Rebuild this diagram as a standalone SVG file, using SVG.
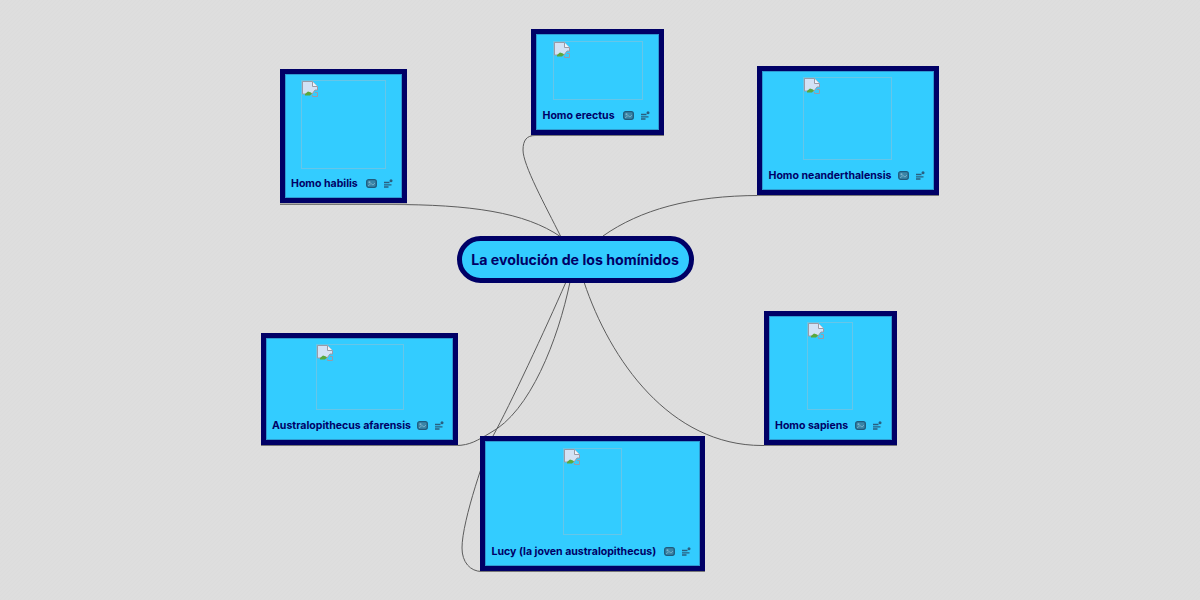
<svg xmlns="http://www.w3.org/2000/svg" width="1200" height="600" viewBox="0 0 1200 600">
<defs>
<pattern id="bg" width="4" height="4" patternUnits="userSpaceOnUse"><rect width="4" height="4" fill="#dedede"/><path d="M0 4L4 0" stroke="#dcdcdc" stroke-width="1"/></pattern>
<g id="broken"><path d="M0.500 0.500H10.500L15.500 5.500V9H13L10 13H0.500Z" fill="#d3e2f5" stroke="#9a9aa6"/><path d="M3 13L6 10.500L9 11.500L10 12.500L8 14.500H3Z" fill="#5aa83c"/><path d="M10.500 0.500V5.500H15.500" fill="#eef4fb" stroke="#9a9aa6"/><path d="M13 11.500H15.500V15.500H10.500V14" fill="none" stroke="#9a9aa6"/></g>
<g id="pic"><rect x="0.700" y="0.700" width="9.600" height="7.600" rx="2" fill="#3a86a8" stroke="#205a7c" stroke-width="1.300"/><circle cx="3.500" cy="3.300" r="1" fill="#7fb4cc"/><path d="M2 7L5 4.500L7 6L9 4" fill="none" stroke="#7fb4cc" stroke-width="0.800"/></g>
<g id="note"><path d="M0 3.500H5.500M0 5.800H7.500M0 8H4.500" stroke="#2a5f80" stroke-width="1.300" fill="none"/><circle cx="7" cy="1.800" r="1.500" fill="#2a5f80"/></g>
</defs>
<style>
.n{fill:#33ccff;stroke:#000066;stroke-width:5}
.i{fill:none;stroke:#2f9ad0;stroke-width:1}
.s{stroke:#777777;stroke-width:1.500;fill:none}
.p{fill:none;stroke:#66c6e8;stroke-width:1}
.t{font-family:"Inter","Liberation Sans",sans-serif;font-weight:700;font-size:10.550px;fill:#000066}
.c{fill:none;stroke:#5c5c5c;stroke-width:1}
</style>
<rect width="1200" height="600" fill="url(#bg)"/>
<g id="connectors">
<path class="c" d="M280 204.500H390C470 204.500 525 212 561 237"/>
<path class="c" d="M561 237C545 205 523 165 523 150C523 140 527 135.500 535 135.500"/>
<path class="c" d="M603 236C640 210 690 195.500 760 195.500H938"/>
<path class="c" d="M566 282C545 330 510 405 493 436C487 450 462 520 462 548C462 562 470 571.500 482 571.500"/>
<path class="c" d="M570 282C558 340 530 412 490 433C478 440 470 445.500 456 445.500H261"/>
<path class="c" d="M584 282C610 360 670 445.500 762 445.500H896"/>
</g>
<g id="node-habilis">
<path class="s" d="M280 204.200H407"/><rect class="n" x="282.500" y="71.500" width="122" height="129"/><rect class="i" x="285.500" y="74.500" width="116" height="123"/>
<rect class="p" x="301.500" y="80.500" width="84" height="88"/><use href="#broken" x="302" y="81"/>
<text class="t" x="291" y="187">Homo habilis</text><use href="#pic" x="366" y="179"/><use href="#note" x="384" y="179"/></g>
<g id="node-erectus">
<path class="s" d="M531 135.200H664"/><rect class="n" x="533.500" y="31.500" width="128" height="101"/><rect class="i" x="536.500" y="34.500" width="122" height="95"/>
<rect class="p" x="553.500" y="41.500" width="89" height="58"/><use href="#broken" x="554" y="42"/>
<text class="t" x="542.500" y="119">Homo erectus</text><use href="#pic" x="623" y="111"/><use href="#note" x="641" y="111"/></g>
<g id="node-neanderthalensis">
<path class="s" d="M757 195.200H939"/><rect class="n" x="759.500" y="68.500" width="177" height="124"/><rect class="i" x="762.500" y="71.500" width="171" height="118"/>
<rect class="p" x="803.500" y="77.500" width="88" height="82"/><use href="#broken" x="804" y="78"/>
<text class="t" x="768.500" y="179">Homo neanderthalensis</text><use href="#pic" x="898" y="171"/><use href="#note" x="916" y="171"/></g>
<g id="node-afarensis">
<path class="s" d="M261 445.200H458"/><rect class="n" x="263.500" y="335.500" width="192" height="107"/><rect class="i" x="266.500" y="338.500" width="186" height="101"/>
<rect class="p" x="316.500" y="344.500" width="87" height="65"/><use href="#broken" x="317" y="345"/>
<text class="t" x="272" y="429">Australopithecus afarensis</text><use href="#pic" x="417" y="421"/><use href="#note" x="435" y="421"/></g>
<g id="node-sapiens">
<path class="s" d="M764 445.200H897"/><rect class="n" x="766.500" y="313.500" width="128" height="129"/><rect class="i" x="769.500" y="316.500" width="122" height="123"/>
<rect class="p" x="807.500" y="322.500" width="45" height="87"/><use href="#broken" x="808" y="323"/>
<text class="t" x="775" y="429">Homo sapiens</text><use href="#pic" x="855" y="421"/><use href="#note" x="873" y="421"/></g>
<g id="node-lucy">
<path class="s" d="M480 571.200H705"/><rect class="n" x="482.500" y="438.500" width="220" height="130"/><rect class="i" x="485.500" y="441.500" width="214" height="124"/>
<rect class="p" x="563.500" y="448.500" width="58" height="86"/><use href="#broken" x="564" y="449"/>
<text class="t" x="491.500" y="555">Lucy (la joven australopithecus)</text><use href="#pic" x="664" y="547"/><use href="#note" x="682" y="547"/></g>
<g id="node-root">
<rect x="459.500" y="238.500" width="232" height="42" rx="21" fill="#33ccff" stroke="#000066" stroke-width="5"/>
<text x="575" y="265" text-anchor="middle" font-family="Inter,'Liberation Sans',sans-serif" font-weight="700" font-size="14.200" fill="#000066">La evolución de los homínidos</text></g>
</svg>
